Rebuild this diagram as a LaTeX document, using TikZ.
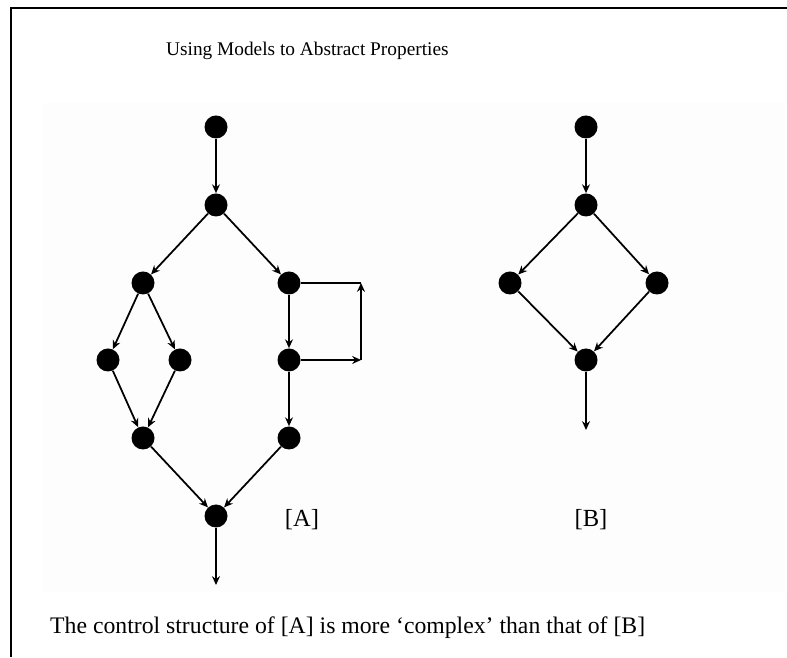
\documentclass[tikz,border=0pt]{standalone}
\usepackage{fontspec}
\setmainfont{Liberation Serif}
\usetikzlibrary{arrows.meta}
\definecolor{boxgray}{RGB}{253,253,253}
\tikzset{
  dot/.style={circle, fill=black, inner sep=0pt, minimum size=0.46cm},
  edge/.style={line width=1pt, -{Stealth[length=5pt,width=4.5pt]}},
  plain/.style={line width=1pt},
  tag/.style={font=\fontsize{14}{16}\selectfont},
}
\begin{document}
\begin{tikzpicture}
  \useasboundingbox (0,0) rectangle (15.74,13.14);
  \fill[boxgray] (0.86,1.3) rectangle (15.7,11.08);
  \draw[line width=1.3pt] (0.22,0) -- (0.22,12.98) -- (15.74,12.98);
  \node[anchor=west, font=\fontsize{11}{13}\selectfont] (title) at (3.2,12.12) {Using Models to Abstract Properties};
  % [A]
  \node[dot] (a1) at (4.32,10.6) {};
  \node[dot] (a2) at (4.32,9.04) {};
  \node[dot] (a3) at (2.86,7.48) {};
  \node[dot] (a4) at (5.78,7.48) {};
  \node[dot] (a5) at (2.16,5.94) {};
  \node[dot] (a6) at (3.6,5.94) {};
  \node[dot] (a7) at (5.78,5.94) {};
  \node[dot] (a8) at (2.86,4.38) {};
  \node[dot] (a9) at (5.78,4.38) {};
  \node[dot] (a10) at (4.32,2.82) {};
  \coordinate (aout) at (4.32,1.44);
  \coordinate (lpb) at (7.22,5.94);
  \coordinate (lpt) at (7.22,7.48);
  \draw[edge] (a1) -- (a2);
  \draw[edge] (a2) -- (a3);
  \draw[edge] (a2) -- (a4);
  \draw[edge] (a3) -- (a5);
  \draw[edge] (a3) -- (a6);
  \draw[edge] (a5) -- (a8);
  \draw[edge] (a6) -- (a8);
  \draw[edge] (a4) -- (a7);
  \draw[edge] (a7) -- (a9);
  \draw[edge] (a8) -- (a10);
  \draw[edge] (a9) -- (a10);
  \draw[edge] (a10) -- (aout);
  \draw[edge] (a7) -- (lpb);
  \draw[edge] (lpb) -- (lpt);
  \draw[plain] (lpt) -- (a4);
  \node[tag] (labA) at (6.04,2.74) {[A]};
  % [B]
  \node[dot] (b1) at (11.72,10.6) {};
  \node[dot] (b2) at (11.72,9.04) {};
  \node[dot] (b3) at (10.2,7.48) {};
  \node[dot] (b4) at (13.14,7.48) {};
  \node[dot] (b5) at (11.72,5.94) {};
  \coordinate (bout) at (11.72,4.54);
  \draw[edge] (b1) -- (b2);
  \draw[edge] (b2) -- (b3);
  \draw[edge] (b2) -- (b4);
  \draw[edge] (b3) -- (b5);
  \draw[edge] (b4) -- (b5);
  \draw[edge] (b5) -- (bout);
  \node[tag] (labB) at (11.82,2.74) {[B]};
  \node[anchor=west, font=\fontsize{13.5}{16}\selectfont] (caption) at (0.88,0.58) {The control structure of [A] is more ‘complex’ than that of [B]};
\end{tikzpicture}
\end{document}
